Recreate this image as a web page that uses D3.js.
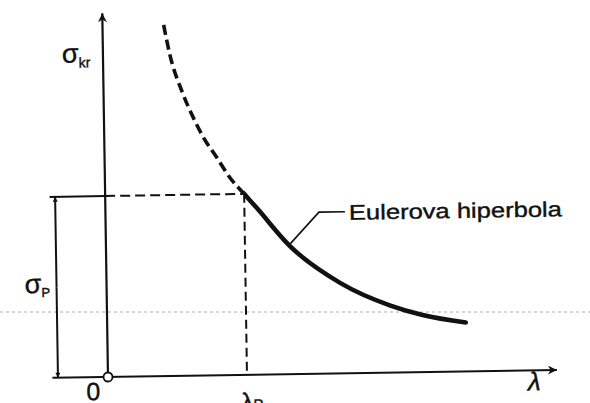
<!DOCTYPE html>
<html>
<head>
<meta charset="utf-8">
<script src="https://cdn.jsdelivr.net/npm/d3@7"></script>
<style>
  body { margin: 0; background: #fff; }
  text { font-family: "Liberation Sans", Arial, sans-serif; fill: #111; stroke: #111; stroke-width: 0.4; }
</style>
</head>
<body>
<div id="chart"></div>
<script>
// curve (lambda / lambdaP, sigma / sigmaP)
var lambdaVals = [0.44, 0.48, 0.57, 0.64, 0.71, 0.81, 0.90, 1.00, 1.09, 1.32, 1.68, 2.04, 2.27, 2.58];
var sigmaVals  = [1.94, 1.78, 1.56, 1.43, 1.32, 1.20, 1.09, 1.00, 0.92, 0.71, 0.50, 0.37, 0.315, 0.27];
var lambdaP = 1, sigmaP = 1;
var curveLabel = "Eulerova hiperbola";

var W = 590, H = 403;
var origin = { x: 108, y: 377 };

var svg = d3.select("#chart")
    .append("svg")
    .attr("width", W)
    .attr("height", H);

var defs = svg.append("defs");
defs.append("marker")
    .attr("id", "arr")
    .attr("viewBox", "0 0 10 10")
    .attr("refX", 10).attr("refY", 5)
    .attr("markerWidth", 9).attr("markerHeight", 5)
    .attr("markerUnits", "userSpaceOnUse")
    .attr("orient", "auto")
    .append("path").attr("d", "M0,0 L10,5 L0,10 Z").attr("fill", "#111");
defs.append("marker")
    .attr("id", "axarr")
    .attr("viewBox", "0 0 10 10")
    .attr("refX", 10).attr("refY", 5)
    .attr("markerWidth", 20).attr("markerHeight", 9)
    .attr("markerUnits", "userSpaceOnUse")
    .attr("orient", "auto")
    .append("path").attr("d", "M0,0 L10,5 L0,10 L3,5 Z").attr("fill", "#111");

// faint scan line
svg.append("line")
    .attr("x1", 0).attr("x2", W).attr("y1", 312).attr("y2", 312)
    .attr("stroke", "#aaa").attr("stroke-width", 1)
    .attr("stroke-dasharray", "3,3");

// the scan is rotated a little
var g = svg.append("g")
    .attr("transform", "translate(" + origin.x + "," + origin.y + ") rotate(-0.9)");

var x = d3.scaleLinear().domain([0, 1]).range([0, 139]);
var y = d3.scaleLinear().domain([0, 1]).range([0, -181]);

// clip regions left / right of lambdaP
defs.append("clipPath").attr("id", "leftP")
    .append("rect").attr("x", x(-1)).attr("y", y(3)).attr("width", x(lambdaP) - x(-1)).attr("height", y(0) - y(3));
defs.append("clipPath").attr("id", "rightP")
    .append("rect").attr("x", x(lambdaP)).attr("y", y(3)).attr("width", x(4) - x(lambdaP)).attr("height", y(0) - y(3));

var data = lambdaVals.map(function (d, i) { return { l: d, s: sigmaVals[i] }; });
var line = d3.line()
    .x(function (d) { return x(d.l) })
    .y(function (d) { return y(d.s) })
    .curve(d3.curveMonotoneX);

// axes
g.append("line")
    .attr("x1", x(-0.4)).attr("y1", 0).attr("x2", x(3.23)).attr("y2", 0)
    .attr("stroke", "#111").attr("stroke-width", 2)
    .attr("marker-end", "url(#axarr)");
g.append("line")
    .attr("x1", 0).attr("y1", 0).attr("x2", 0).attr("y2", y(2.01))
    .attr("stroke", "#111").attr("stroke-width", 2.2)
    .attr("marker-end", "url(#axarr)");

// sigmaP guide
g.append("line")
    .attr("x1", x(-0.4)).attr("x2", x(0)).attr("y1", y(sigmaP)).attr("y2", y(sigmaP))
    .attr("stroke", "#111").attr("stroke-width", 2);
g.append("line")
    .attr("x1", x(0)).attr("x2", x(lambdaP)).attr("y1", y(sigmaP)).attr("y2", y(sigmaP))
    .attr("stroke", "#111").attr("stroke-width", 2)
    .attr("stroke-dasharray", "10,5");
// lambdaP guide
g.append("line")
    .attr("x1", x(lambdaP)).attr("x2", x(lambdaP)).attr("y1", y(sigmaP)).attr("y2", 0)
    .attr("stroke", "#111").attr("stroke-width", 2)
    .attr("stroke-dasharray", "9,5");

// double arrow for sigmaP
g.append("line")
    .attr("x1", x(-0.36)).attr("x2", x(-0.36)).attr("y1", y(0.5)).attr("y2", y(sigmaP))
    .attr("stroke", "#111").attr("stroke-width", 2)
    .attr("marker-end", "url(#arr)");
g.append("line")
    .attr("x1", x(-0.36)).attr("x2", x(-0.36)).attr("y1", y(0.5)).attr("y2", 0)
    .attr("stroke", "#111").attr("stroke-width", 2)
    .attr("marker-end", "url(#arr)");

// curve: dashed above lambdaP, solid below
g.append("path")
    .datum(data)
    .attr("clip-path", "url(#leftP)")
    .attr("fill", "none").attr("stroke", "#111").attr("stroke-width", 3.6)
    .attr("stroke-dasharray", "10,5")
    .attr("d", line);
g.append("path")
    .datum(data)
    .attr("clip-path", "url(#rightP)")
    .attr("fill", "none").attr("stroke", "#111").attr("stroke-width", 4.5)
    .attr("stroke-linecap", "round")
    .attr("d", line);

// leader + label
var lp = data[9];
g.append("path")
    .attr("d", d3.line()([[x(lp.l) + 1, y(lp.s) - 2], [x(lp.l) + 30, y(lp.s) - 33], [x(lp.l) + 56, y(lp.s) - 33]]))
    .attr("fill", "none").attr("stroke", "#111").attr("stroke-width", 1.6);
g.append("text")
    .attr("x", x(lp.l) + 60).attr("y", y(lp.s) - 25)
    .attr("font-size", 21)
    .attr("textLength", 213).attr("lengthAdjust", "spacingAndGlyphs")
    .text(curveLabel);

// origin circle
g.append("circle")
    .attr("cx", 0).attr("cy", 0).attr("r", 4.5)
    .attr("fill", "#fff").attr("stroke", "#111").attr("stroke-width", 1.8);

// labels
var sk = g.append("text").attr("x", -41).attr("y", -315);
sk.append("tspan").attr("font-size", 27).text("σ");
sk.append("tspan").attr("font-size", 14).attr("dy", 5).text("kr");

var sp = g.append("text").attr("x", x(-0.59)).attr("y", y(0.47));
sp.append("tspan").attr("font-size", 27).text("σ");
sp.append("tspan").attr("font-size", 13).attr("dy", 4).text("P");

g.append("text")
    .attr("x", -15).attr("y", 23)
    .attr("text-anchor", "middle")
    .attr("font-size", 25)
    .text("0");

var lpl = g.append("text").attr("x", x(lambdaP) - 6).attr("y", 35);
lpl.append("tspan").attr("font-size", 24).text("λ");
lpl.append("tspan").attr("font-size", 15).text("P");

g.append("text")
    .attr("x", x(3.02)).attr("y", 20)
    .attr("font-size", 26).attr("font-style", "italic")
    .text("λ");
</script>
</body>
</html>
